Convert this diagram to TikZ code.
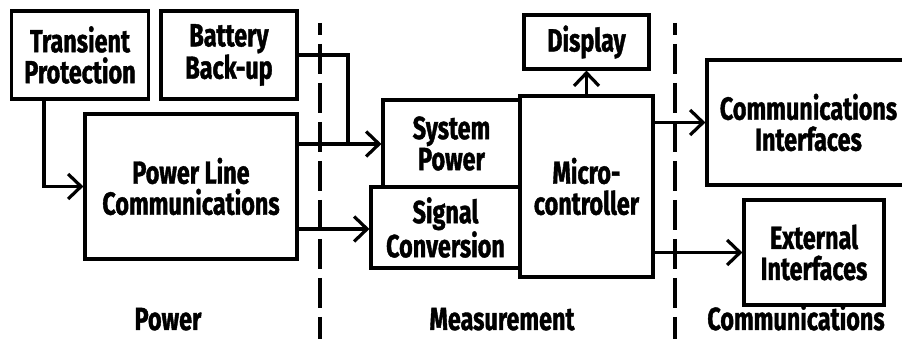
\documentclass[tikz,border=0pt]{standalone}
\usepackage{fontspec}
\setmainfont{Fira Sans}[BoldFont={Fira Sans Bold},BoldFeatures={FakeBold=1.2},FakeStretch=0.73]
\usepackage{tikz}
\usetikzlibrary{arrows.meta}

\tikzset{
  blk/.style={draw=black,line width=3.2pt,inner sep=0pt,align=center,
    font=\bfseries\fontsize{32}{31}\selectfont},
  arr/.style={line width=3.2pt,-{Straight Barb[length=13pt,width=25pt,line width=3.2pt]}},
  wire/.style={line width=3.2pt},
  divider/.style={line width=3.2pt,dash pattern=on 30pt off 9pt,dash phase=18pt},
  zone/.style={anchor=base,inner sep=0pt,text depth=0pt,font=\bfseries\fontsize{32}{31}\selectfont}
}

\begin{document}
\begin{tikzpicture}[x=1pt,y=1pt]
\useasboundingbox (0,0) rectangle (902,339);
% section dividers:
\draw[divider] (320,316) -- (320,0);
\draw[divider] (675,316) -- (675,0);
% power blocks:
\node[blk,minimum width=137,minimum height=88] (tp) at (80,284) {Transient\\Protection};
\node[blk,minimum width=136,minimum height=88] (bb) at (229,284) {Battery\\Back-up};
\node[blk,minimum width=212,minimum height=145] (plc) at (191,152.5) {Power Line\\Communications};
% measurement blocks:
\node[blk,minimum width=137,minimum height=87] (sp) at (451.5,195.5) {System\\Power};
\node[blk,minimum width=149,minimum height=81] (sc) at (445.5,111.5) {Signal\\Conversion};
\node[blk,minimum width=133,minimum height=181] (mc) at (586.5,152.5) {Micro-\\controller};
\node[blk,minimum width=125,minimum height=54] (disp) at (586.5,297) {Display};
% communications blocks:
\node[blk,minimum width=203,minimum height=125] (ci) at (808.5,216.5) {Communications\\Interfaces};
\node[blk,minimum width=140,minimum height=105] (ext) at (814,86.5) {External\\Interfaces};
% connectors:
\coordinate (join) at (348,195);
\draw[arr] ([xshift=-36pt]tp.south) |- (plc.west);
\draw[wire] (bb.east) -| (join);
\draw[arr] (plc.east |- join) -- (sp.west |- join);
\draw[arr] (plc.east |- 0,110) -- (sc.west |- 0,110);
\draw[arr] (mc.north) -- (disp.south);
\draw[arr] (mc.east |- ci.west) -- (ci.west);
\draw[arr] (mc.east |- ext.west) -- (ext.west);
% zone labels:
\node[zone] (pw) at (168,9) {Power};
\node[zone] (ms) at (502,9) {Measurement};
\node[zone] (cm) at (796,9) {Communications};
\end{tikzpicture}
\end{document}
